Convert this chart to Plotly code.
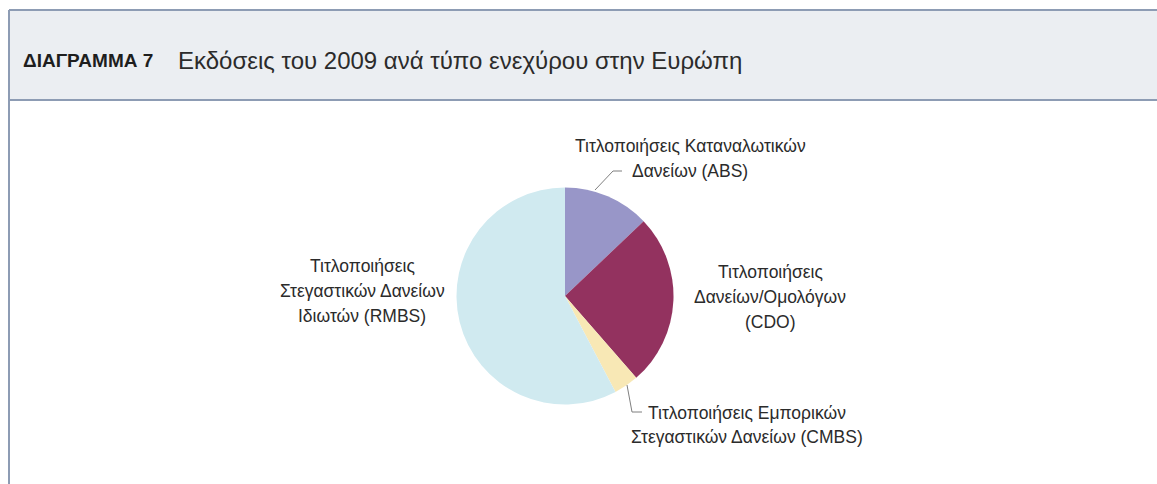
import plotly.graph_objects as go

W, H = 1157, 484

# ---- data ----
categories = [
    "Τιτλοποιήσεις Καταναλωτικών Δανείων (ABS)",
    "Τιτλοποιήσεις Δανείων/Ομολόγων (CDO)",
    "Τιτλοποιήσεις Εμπορικών Στεγαστικών Δανείων (CMBS)",
    "Τιτλοποιήσεις Στεγαστικών Δανείων Ιδιωτών (RMBS)",
]
shares = [12.9, 25.7, 3.7, 57.7]
slice_colors = ["#9896c8", "#93325f", "#f8e8b5", "#d0eaf0"]

label_lines = [
    ["Τιτλοποιήσεις Καταναλωτικών", "Δανείων (ABS)"],
    ["Τιτλοποιήσεις", "Δανείων/Ομολόγων", "(CDO)"],
    ["Τιτλοποιήσεις Εμπορικών", "Στεγαστικών Δανείων (CMBS)"],
    ["Τιτλοποιήσεις", "Στεγαστικών Δανείων", "Ιδιωτών (RMBS)"],
]

title_tag = "ΔΙΑΓΡΑΜΜΑ 7"
title_text = "Εκδόσεις του 2009 ανά τύπο ενεχύρου στην Ευρώπη"

# ---- layout helpers (pixel -> paper) ----
def px(x):
    return x / W

def py(y):
    return 1 - y / H

cx, cy, r = 565, 296, 108.5

fig = go.Figure(
    go.Pie(
        labels=categories,
        values=shares,
        sort=False,
        direction="clockwise",
        rotation=0,
        marker=dict(colors=slice_colors, line=dict(width=0)),
        textinfo="none",
        hoverinfo="label+percent",
        showlegend=False,
        domain=dict(x=[px(cx - r), px(cx + r)], y=[py(cy + r), py(cy - r)]),
    )
)

shapes = [
    # header band
    dict(type="rect", xref="paper", yref="paper", x0=px(9), x1=1.0, y0=py(100), y1=py(10),
         fillcolor="#ebeef2", line=dict(width=0), layer="below"),
    dict(type="line", xref="paper", yref="paper", x0=px(9), x1=1.0, y0=py(10), y1=py(10),
         line=dict(color="#8d9cb4", width=2)),
    dict(type="line", xref="paper", yref="paper", x0=px(9), x1=1.0, y0=py(100), y1=py(100),
         line=dict(color="#8d9cb4", width=2)),
    dict(type="line", xref="paper", yref="paper", x0=px(9), x1=px(9), y0=0, y1=py(10),
         line=dict(color="#8d9cb4", width=2)),
    # leader lines
    dict(type="path", xref="paper", yref="paper",
         path=f"M {px(595)} {py(190)} L {px(613)} {py(171)} L {px(622)} {py(171)}",
         line=dict(color="#7f7f7f", width=1)),
    dict(type="path", xref="paper", yref="paper",
         path=f"M {px(627)} {py(385)} L {px(632)} {py(412)} L {px(642)} {py(412)}",
         line=dict(color="#7f7f7f", width=1)),
]

lab_font = dict(family="Liberation Sans, Arial, sans-serif", size=17.5, color="#2b2b2b")
annotations = [
    dict(text=f"<b>{title_tag}</b>", x=px(21), y=py(60), xref="paper", yref="paper",
         xanchor="left", yanchor="middle", showarrow=False,
         font=dict(family="Liberation Sans, Arial, sans-serif", size=19, color="#1e1e1e")),
    dict(text=title_text, x=px(176), y=py(60), xref="paper", yref="paper",
         xanchor="left", yanchor="middle", showarrow=False,
         font=dict(family="Liberation Sans, Arial, sans-serif", size=24, color="#2b2b2b")),
]

label_pos = [
    (690, [146, 171]),
    (770, [272, 297, 322]),
    (747, [413, 437]),
    (362, [266, 291, 316]),
]
for lines, (lx, ys) in zip(label_lines, label_pos):
    for t, yy in zip(lines, ys):
        annotations.append(dict(text=t, x=px(lx), y=py(yy), xref="paper", yref="paper",
                                xanchor="center", yanchor="middle", showarrow=False,
                                font=lab_font))

fig.update_layout(
    width=W, height=H,
    margin=dict(l=0, r=0, t=0, b=0),
    paper_bgcolor="white",
    plot_bgcolor="white",
    shapes=shapes,
    annotations=annotations,
)

fig.write_html(
    "out.html",
    config={"displayModeBar": False},
    post_script="document.body.style.margin='0';document.body.style.overflow='hidden';",
)
